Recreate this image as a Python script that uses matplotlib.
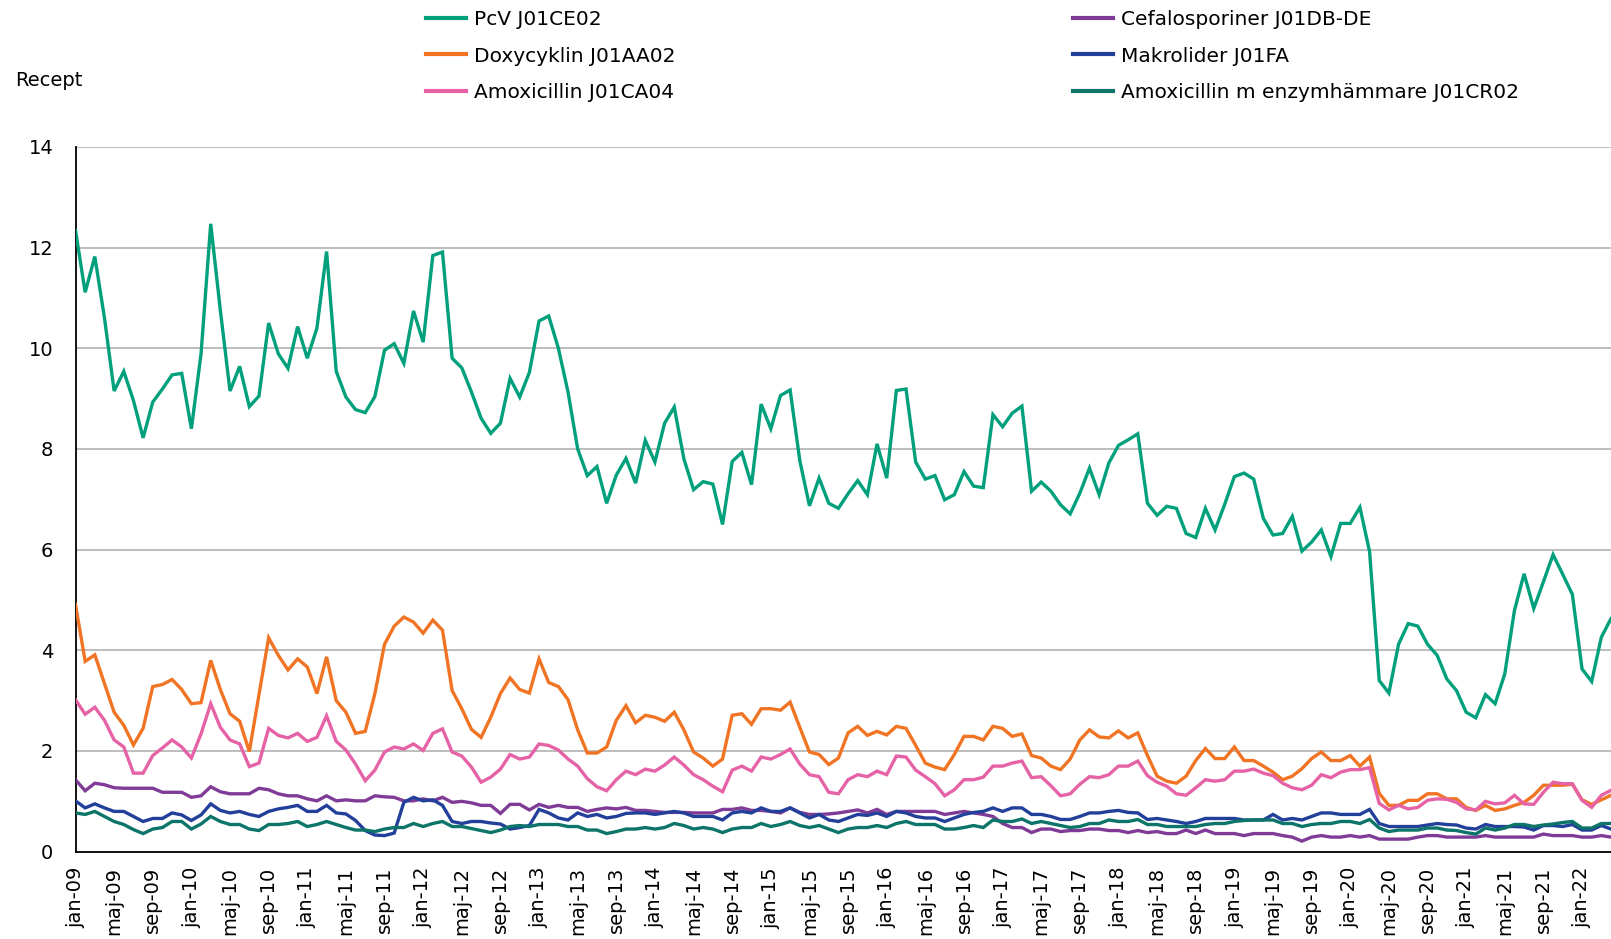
import matplotlib
matplotlib.use("Agg")
import matplotlib.pyplot as plt

# ---- data (monthly, jan-09 .. apr-22) ----
month_names = ['jan', 'feb', 'mar', 'apr', 'maj', 'jun', 'jul', 'aug', 'sep', 'okt', 'nov', 'dec']
n_months = 160
categories = [f"{month_names[i % 12]}-{(2009 + i // 12) % 100:02d}" for i in range(n_months)]

pcv = [12.34, 11.11, 11.82, 10.6, 9.15, 9.54, 8.96, 8.22, 8.93, 9.19, 9.47, 9.50,
       8.40, 9.89, 12.47, 10.75, 9.15, 9.64, 8.84, 9.05, 10.50, 9.89, 9.60, 10.43,
       9.80, 10.40, 11.92, 9.54, 9.03, 8.78, 8.72, 9.04, 9.96, 10.09, 9.70, 10.74,
       10.12, 11.84, 11.91, 9.80, 9.61, 9.13, 8.61, 8.31, 8.51, 9.40, 9.03, 9.52,
       10.54, 10.64, 10.0, 9.13, 8.0, 7.47, 7.65, 6.92, 7.48, 7.81, 7.32, 8.17,
       7.74, 8.51, 8.83, 7.80, 7.19, 7.35, 7.30, 6.5, 7.75, 7.93, 7.29, 8.89,
       8.40, 9.06, 9.17, 7.77, 6.87, 7.42, 6.92, 6.82, 7.11, 7.37, 7.09, 8.10,
       7.42, 9.16, 9.19, 7.74, 7.40, 7.47, 6.99, 7.09, 7.55, 7.26, 7.23, 8.68,
       8.44, 8.71, 8.85, 7.16, 7.34, 7.16, 6.89, 6.71, 7.12, 7.62, 7.09, 7.72,
       8.07, 8.18, 8.30, 6.92, 6.68, 6.86, 6.82, 6.32, 6.24, 6.82, 6.39, 6.9,
       7.45, 7.52, 7.40, 6.62, 6.29, 6.32, 6.66, 5.97, 6.15, 6.39, 5.86, 6.52,
       6.52, 6.84, 5.96, 3.40, 3.15, 4.12, 4.53, 4.48, 4.12, 3.90, 3.43, 3.20,
       2.77, 2.66, 3.12, 2.94, 3.53, 4.79, 5.52, 4.83, 5.36, 5.90, 5.51, 5.11,
       3.63, 3.38, 4.26, 4.63]

doxy = [4.91, 3.78, 3.91, 3.34, 2.77, 2.51, 2.12, 2.45, 3.28, 3.32, 3.42, 3.22,
        2.94, 2.96, 3.80, 3.22, 2.74, 2.59, 1.99, 3.12, 4.25, 3.90, 3.61, 3.83,
        3.67, 3.14, 3.87, 3.00, 2.77, 2.35, 2.39, 3.14, 4.12, 4.48, 4.66, 4.56,
        4.34, 4.60, 4.40, 3.20, 2.84, 2.43, 2.27, 2.67, 3.14, 3.45, 3.22, 3.15,
        3.83, 3.36, 3.28, 3.02, 2.42, 1.96, 1.96, 2.08, 2.61, 2.90, 2.56, 2.71,
        2.67, 2.59, 2.77, 2.42, 1.98, 1.86, 1.70, 1.84, 2.71, 2.74, 2.53, 2.84,
        2.84, 2.81, 2.97, 2.47, 1.98, 1.93, 1.73, 1.86, 2.36, 2.49, 2.31, 2.39,
        2.32, 2.49, 2.45, 2.11, 1.76, 1.68, 1.63, 1.93, 2.29, 2.29, 2.22, 2.49,
        2.45, 2.29, 2.34, 1.91, 1.86, 1.70, 1.63, 1.84, 2.22, 2.42, 2.28, 2.26,
        2.40, 2.26, 2.36, 1.91, 1.50, 1.40, 1.36, 1.50, 1.81, 2.05, 1.85, 1.85,
        2.08, 1.81, 1.81, 1.70, 1.58, 1.43, 1.50, 1.65, 1.85, 1.98, 1.81, 1.81,
        1.91, 1.70, 1.88, 1.16, 0.92, 0.92, 1.02, 1.02, 1.15, 1.15, 1.05, 1.05,
        0.88, 0.82, 0.92, 0.82, 0.85, 0.92, 0.98, 1.12, 1.32, 1.32, 1.32, 1.34,
        1.03, 0.94, 1.03, 1.12]

amox = [3.02, 2.73, 2.87, 2.61, 2.22, 2.08, 1.56, 1.56, 1.91, 2.06, 2.22, 2.08,
        1.86, 2.34, 2.94, 2.47, 2.22, 2.14, 1.69, 1.76, 2.45, 2.31, 2.26, 2.35,
        2.19, 2.27, 2.70, 2.19, 2.02, 1.74, 1.41, 1.62, 1.98, 2.08, 2.04, 2.14,
        2.01, 2.35, 2.44, 1.98, 1.90, 1.68, 1.38, 1.48, 1.64, 1.93, 1.84, 1.88,
        2.14, 2.11, 2.02, 1.84, 1.70, 1.45, 1.29, 1.21, 1.43, 1.60, 1.53, 1.64,
        1.60, 1.72, 1.88, 1.72, 1.53, 1.43, 1.30, 1.19, 1.62, 1.70, 1.60, 1.88,
        1.84, 1.93, 2.04, 1.74, 1.53, 1.49, 1.18, 1.15, 1.43, 1.53, 1.49, 1.60,
        1.53, 1.90, 1.88, 1.62, 1.49, 1.35, 1.11, 1.23, 1.43, 1.43, 1.48, 1.70,
        1.70, 1.76, 1.80, 1.47, 1.49, 1.31, 1.11, 1.15, 1.34, 1.49, 1.47, 1.53,
        1.70, 1.70, 1.80, 1.51, 1.38, 1.30, 1.15, 1.12, 1.27, 1.43, 1.40, 1.43,
        1.60, 1.60, 1.64, 1.56, 1.51, 1.36, 1.27, 1.23, 1.32, 1.53, 1.47, 1.58,
        1.63, 1.63, 1.67, 0.96, 0.83, 0.92, 0.85, 0.88, 1.02, 1.05, 1.04, 0.98,
        0.85, 0.83, 1.00, 0.95, 0.97, 1.12, 0.95, 0.94, 1.18, 1.38, 1.35, 1.35,
        1.02, 0.88, 1.12, 1.22]

cefalo = [1.43, 1.21, 1.36, 1.33, 1.27, 1.26, 1.26, 1.26, 1.26, 1.18, 1.18, 1.18,
          1.08, 1.11, 1.29, 1.19, 1.15, 1.15, 1.15, 1.26, 1.23, 1.15, 1.11, 1.11,
          1.05, 1.01, 1.11, 1.01, 1.03, 1.01, 1.01, 1.11, 1.09, 1.08, 1.01, 1.01,
          1.05, 1.01, 1.08, 0.98, 1.00, 0.97, 0.92, 0.92, 0.76, 0.94, 0.94, 0.83,
          0.94, 0.88, 0.92, 0.88, 0.88, 0.80, 0.84, 0.87, 0.85, 0.88, 0.82, 0.82,
          0.80, 0.78, 0.78, 0.78, 0.77, 0.77, 0.77, 0.84, 0.84, 0.87, 0.82, 0.82,
          0.80, 0.77, 0.87, 0.78, 0.74, 0.74, 0.75, 0.77, 0.80, 0.83, 0.77, 0.84,
          0.74, 0.80, 0.80, 0.80, 0.80, 0.80, 0.74, 0.77, 0.80, 0.77, 0.74, 0.70,
          0.56, 0.48, 0.48, 0.38, 0.45, 0.45, 0.40, 0.42, 0.42, 0.45, 0.45, 0.42,
          0.42, 0.38, 0.42, 0.38, 0.40, 0.36, 0.36, 0.43, 0.36, 0.43, 0.36, 0.36,
          0.36, 0.32, 0.36, 0.36, 0.36, 0.32, 0.29, 0.21, 0.29, 0.32, 0.29, 0.29,
          0.32, 0.29, 0.32, 0.25, 0.25, 0.25, 0.25, 0.29, 0.32, 0.32, 0.29, 0.29,
          0.29, 0.29, 0.32, 0.29, 0.29, 0.29, 0.29, 0.29, 0.35, 0.32, 0.32, 0.32,
          0.29, 0.29, 0.32, 0.29]

makro = [1.01, 0.87, 0.95, 0.87, 0.80, 0.80, 0.70, 0.60, 0.66, 0.66, 0.77, 0.73,
         0.62, 0.73, 0.95, 0.82, 0.77, 0.80, 0.74, 0.70, 0.80, 0.85, 0.88, 0.92,
         0.80, 0.80, 0.92, 0.77, 0.75, 0.62, 0.42, 0.33, 0.32, 0.37, 0.98, 1.08,
         1.01, 1.03, 0.92, 0.60, 0.56, 0.60, 0.60, 0.57, 0.55, 0.45, 0.48, 0.52,
         0.84, 0.77, 0.67, 0.63, 0.77, 0.70, 0.74, 0.67, 0.70, 0.76, 0.77, 0.77,
         0.74, 0.77, 0.80, 0.77, 0.70, 0.70, 0.70, 0.63, 0.77, 0.80, 0.77, 0.87,
         0.80, 0.80, 0.87, 0.77, 0.67, 0.74, 0.63, 0.60, 0.67, 0.74, 0.72, 0.77,
         0.70, 0.80, 0.77, 0.70, 0.67, 0.67, 0.60, 0.67, 0.74, 0.78, 0.80, 0.87,
         0.80, 0.87, 0.87, 0.74, 0.74, 0.70, 0.64, 0.64, 0.70, 0.77, 0.77, 0.80,
         0.82, 0.78, 0.77, 0.64, 0.66, 0.63, 0.60, 0.56, 0.60, 0.66, 0.66, 0.66,
         0.66, 0.63, 0.63, 0.63, 0.74, 0.63, 0.66, 0.63, 0.70, 0.77, 0.77, 0.74,
         0.74, 0.74, 0.84, 0.56, 0.50, 0.50, 0.50, 0.50, 0.53, 0.56, 0.54, 0.53,
         0.47, 0.45, 0.54, 0.50, 0.50, 0.50, 0.49, 0.43, 0.52, 0.52, 0.50, 0.54,
         0.43, 0.43, 0.52, 0.45]

amox_enz = [0.77, 0.74, 0.80, 0.70, 0.60, 0.54, 0.44, 0.36, 0.45, 0.48, 0.60, 0.60,
            0.45, 0.55, 0.70, 0.60, 0.54, 0.54, 0.45, 0.42, 0.54, 0.54, 0.56, 0.60,
            0.50, 0.54, 0.60, 0.54, 0.48, 0.43, 0.43, 0.40, 0.45, 0.48, 0.48, 0.56,
            0.50, 0.56, 0.60, 0.50, 0.50, 0.46, 0.42, 0.38, 0.43, 0.50, 0.52, 0.50,
            0.54, 0.54, 0.54, 0.50, 0.50, 0.43, 0.43, 0.36, 0.40, 0.45, 0.45, 0.48,
            0.45, 0.48, 0.56, 0.52, 0.45, 0.48, 0.45, 0.38, 0.45, 0.48, 0.48, 0.56,
            0.50, 0.54, 0.60, 0.52, 0.48, 0.52, 0.45, 0.38, 0.45, 0.48, 0.48, 0.52,
            0.48, 0.56, 0.60, 0.54, 0.54, 0.54, 0.45, 0.45, 0.48, 0.52, 0.48, 0.63,
            0.60, 0.60, 0.65, 0.56, 0.60, 0.56, 0.52, 0.48, 0.50, 0.56, 0.56, 0.63,
            0.60, 0.60, 0.64, 0.54, 0.54, 0.50, 0.50, 0.50, 0.50, 0.54, 0.56, 0.56,
            0.60, 0.62, 0.63, 0.63, 0.63, 0.56, 0.56, 0.50, 0.54, 0.56, 0.56, 0.60,
            0.60, 0.56, 0.64, 0.47, 0.40, 0.43, 0.43, 0.43, 0.47, 0.47, 0.43, 0.42,
            0.38, 0.35, 0.47, 0.43, 0.47, 0.54, 0.54, 0.50, 0.53, 0.55, 0.58, 0.60,
            0.47, 0.47, 0.56, 0.56]

series_labels = ["PcV J01CE02", "Doxycyklin J01AA02", "Amoxicillin J01CA04",
                 "Cefalosporiner J01DB-DE", "Makrolider J01FA",
                 "Amoxicillin m enzymhämmare J01CR02"]
series_values = [pcv, doxy, amox, cefalo, makro, amox_enz]
series_colors = ["#00A07C", "#F07423", "#E662A6", "#7F3B96", "#22409A", "#0C7468"]

y_ticks = [0, 2, 4, 6, 8, 10, 12, 14]
tick_step = 4

# ---- figure ----
W, H = 1611, 939
fig = plt.figure(figsize=(W / 100, H / 100), dpi=100)
left_px, right_px, top_px, bottom_px = 75.5, 1611, 146.8, 851.7
ax = fig.add_axes([left_px / W, 1 - bottom_px / H, (right_px - left_px) / W,
                   (bottom_px - top_px) / H])

x = list(range(n_months))
handles = []
for vals, lab, col in zip(series_values, series_labels, series_colors):
    h, = ax.plot(x, vals, color=col, lw=2.4, label=lab, solid_joinstyle='miter', zorder=3)
    handles.append(h)

ax.set_xlim(0, n_months - 1)
ax.set_ylim(0, 14)
ax.set_yticks(y_ticks)
ax.set_yticklabels([str(t) for t in y_ticks], fontsize=14)
tick_pos = list(range(0, n_months, tick_step))
ax.set_xticks(tick_pos)
ax.set_xticklabels([categories[i] for i in tick_pos], rotation=90, fontsize=14)
ax.tick_params(axis='x', length=0, pad=11)
ax.tick_params(axis='y', length=0, pad=16)
ax.grid(axis='y', color='#BDBDBD', lw=1.4, zorder=0)
ax.set_axisbelow(True)
for s in ['top', 'right']:
    ax.spines[s].set_visible(False)
ax.spines['left'].set_color('black')
ax.spines['bottom'].set_color('black')
ax.spines['left'].set_linewidth(1.3)
ax.spines['bottom'].set_linewidth(1.3)

fig.text(15 / W, 1 - 81 / H, "Recept", fontsize=14, va='center', ha='left')

leg_kw = dict(loc='upper left', frameon=False, fontsize=14.5, handlelength=2.0,
              handletextpad=0.4, labelspacing=0.87, borderpad=0, borderaxespad=0)
leg1 = fig.legend(handles[:3], series_labels[:3],
                  bbox_to_anchor=(426 / W, 1 - 10 / H), **leg_kw)
leg2 = fig.legend(handles[3:], series_labels[3:],
                  bbox_to_anchor=(1073 / W, 1 - 10 / H), **leg_kw)
for leg in (leg1, leg2):
    for ln in leg.get_lines():
        ln.set_linewidth(3)

fig.savefig("out.png", dpi=100)
